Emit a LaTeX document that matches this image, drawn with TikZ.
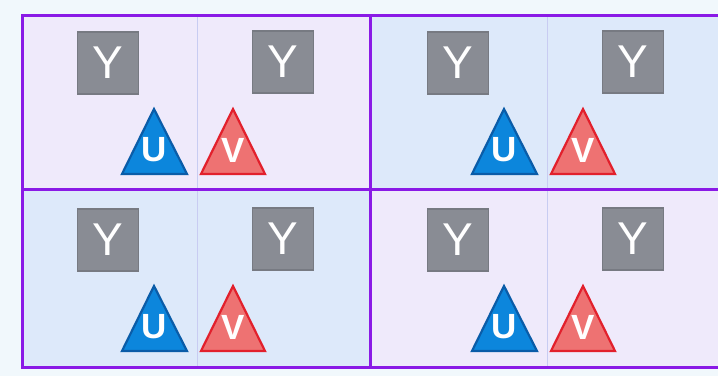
\documentclass[tikz,border=0pt]{standalone}
\usepackage{fontspec}
\setmainfont{Liberation Sans}
\definecolor{pagebg}{HTML}{F1F8FC}
\definecolor{lav}{HTML}{EFEAFB}
\definecolor{lblue}{HTML}{DDE9FA}
\definecolor{framecol}{HTML}{8A1AE6}
\definecolor{sepcol}{HTML}{C8CCF2}
\definecolor{yfill}{HTML}{898C94}
\definecolor{ydraw}{HTML}{777A82}
\definecolor{ufill}{HTML}{0C86DC}
\definecolor{udraw}{HTML}{0A5CA8}
\definecolor{vfill}{HTML}{EE7272}
\definecolor{vdraw}{HTML}{E2202C}
\tikzset{
  ybox/.style={draw=ydraw,fill=yfill,line width=1.5pt,minimum width=61pt,minimum height=62pt,inner sep=0pt,
    text=white,font=\fontsize{46}{46}\selectfont},
  tri/.style={line width=2.2pt,line join=miter},
  trilabel/.style={text=white,font=\bfseries\fontsize{35}{35}\selectfont,inner sep=0pt},
  sepline/.style={draw=sepcol,line width=1pt},
  frameline/.style={draw=framecol,line width=3pt},
}
\newcommand{\cellcontent}[3]{% #1 x offset, #2 y offset, #3 name prefix
  \begin{scope}[shift={(#1,#2)}]
    \node[ybox] (#3y1) at (108,63) {Y};
    \node[ybox] (#3y2) at (283,62) {Y};
    \fill[ufill] (154,109) -- (187,174) -- (122,174) -- cycle;
    \draw[udraw,tri] (154,109) -- (187,174) -- (122,174) -- cycle;
    \fill[vfill] (233,109) -- (265,174) -- (201,174) -- cycle;
    \draw[vdraw,tri] (233,109) -- (265,174) -- (201,174) -- cycle;
    \node[trilabel] (#3u) at (154,150) {U};
    \node[trilabel] (#3v) at (233,150) {V};
  \end{scope}
}
\begin{document}
\begin{tikzpicture}[x=1pt,y=-1pt]
  \useasboundingbox (0,0) rectangle (718,376);
  \fill[pagebg] (0,0) rectangle (718,376);
  \fill[lav] (22,15) rectangle (370,189);
  \fill[lblue] (370,15) rectangle (720,189);
  \fill[lblue] (22,189) rectangle (370,367);
  \fill[lav] (370,189) rectangle (720,367);
  \draw[sepline] (197,15) -- (197,367);
  \draw[sepline] (547,15) -- (547,367);
  \cellcontent{0}{0}{a}
  \cellcontent{350}{0}{b}
  \cellcontent{0}{177}{c}
  \cellcontent{350}{177}{d}
  \draw[frameline] (725,15) -- (22,15) -- (22,367) -- (725,367);
  \draw[frameline] (22,189) -- (725,189);
  \draw[frameline] (370,15) -- (370,367);
\end{tikzpicture}
\end{document}
